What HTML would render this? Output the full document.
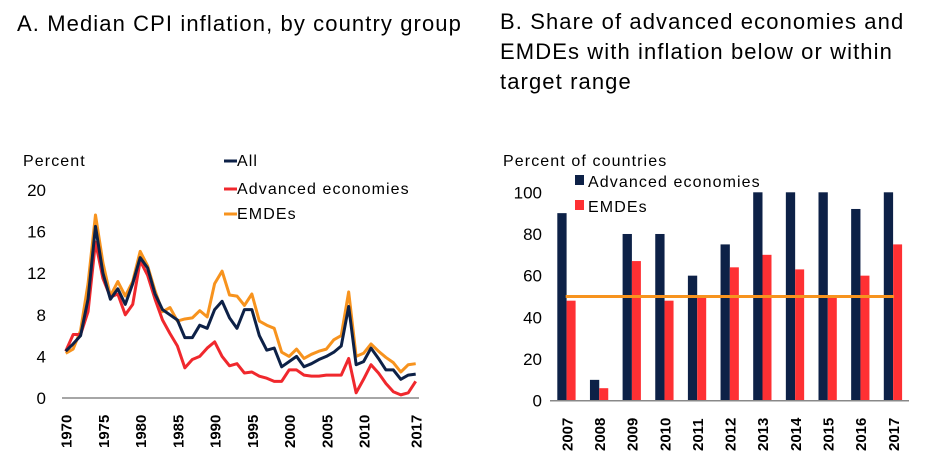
<!DOCTYPE html>
<html><head><meta charset="utf-8"><style>
body{margin:0;background:#fff;font-family:"Liberation Sans",Arial,sans-serif}
svg{display:block}
text{font-family:"Liberation Sans",Arial,sans-serif;fill:#000}
.lg{font-size:16px;letter-spacing:1.1px}
</style></head><body>
<svg width="929" height="455">
<text x="17" y="31" font-size="22" letter-spacing="1.1">A. Median CPI inflation, by country group</text>
<text x="500" y="29" font-size="22" letter-spacing="1.1"><tspan x="500">B. Share of advanced economies and</tspan><tspan x="500" dy="30">EMDEs with inflation below or within</tspan><tspan x="500" dy="30">target range</tspan></text>
<text x="23" y="166" class="lg">Percent</text>
<text x="503" y="166" class="lg">Percent of countries</text>
<g id="a"></g><g id="b"></g>
</svg>
<script>
const years=[];for(let y=1970;y<=2017;y++)years.push(y);
const allSeries=[4.5,5.2,6,9.5,16.5,12,9.5,10.5,9,11,13.5,12.5,10,8.5,8,7.5,5.8,5.8,7,6.7,8.5,9.3,7.7,6.7,8.5,8.5,6,4.6,4.8,3,3.5,4,3,3.3,3.7,4,4.4,5,8.8,3.2,3.5,4.8,3.8,2.7,2.7,1.8,2.2,2.3];
const advSeries=[4.5,6.1,6.1,8.3,15,11.5,9.7,10,8,9,13.2,11.8,9.5,7.5,6.2,5,2.9,3.7,4,4.8,5.4,4,3.1,3.3,2.4,2.5,2.1,1.9,1.6,1.6,2.7,2.7,2.2,2.1,2.1,2.2,2.2,2.2,3.8,0.5,1.8,3.2,2.4,1.4,0.6,0.3,0.5,1.6];
const emdeSeries=[4.3,4.7,6.5,11,17.6,13,9.8,11.2,9.8,11.2,14.1,12.7,10.3,8.3,8.7,7.4,7.6,7.7,8.4,7.8,11,12.2,9.9,9.8,8.9,10,7.4,7,6.7,4.4,4,4.7,3.8,4.2,4.5,4.7,5.6,6,10.2,4,4.3,5.2,4.5,3.9,3.4,2.5,3.2,3.3];
const aTicks=[0,4,8,12,16,20];
const aXLabels=[1970,1975,1980,1985,1990,1995,2000,2005,2010,2017];
const barCats=["2007","2008","2009","2010","2011","2012","2013","2014","2015","2016","2017"];
const barAdv=[90,10,80,80,60,75,100,100,100,92,100];
const barEmde=[48,6,67,48,50,64,70,63,50,60,75];
const bTicks=[0,20,40,60,80,100];
const refLine=50;
const NS="http://www.w3.org/2000/svg";
function mk(p,t,a){const e=document.createElementNS(NS,t);for(const k in a)e.setAttribute(k,a[k]);p.appendChild(e);return e;}
const ga=document.getElementById('a');
const ax=y=>65.7+(y-1970)*350/47, ay=v=>398-v*10.4;
aTicks.forEach(t=>{const e=mk(ga,'text',{x:46,y:ay(t)+6,'font-size':17,'text-anchor':'end'});e.textContent=t;

});
const axl=mk(ga,'line',{x1:62,x2:419,y1:398,y2:398,stroke:'#888','stroke-width':1.5});


aXLabels.forEach(y=>{const e=mk(ga,'text',{transform:`translate(${ax(y)+6},448) rotate(-90)`,'font-size':15,'font-weight':'bold'});e.textContent=y;

});
[[emdeSeries,'#f7931e','line-emdes'],[advSeries,'#f0282d','line-advanced'],[allSeries,'#0d2147','line-all']].forEach(([s,c,n])=>{
const p=mk(ga,'polyline',{points:s.map((v,i)=>ax(years[i])+','+ay(v)).join(' '),fill:'none',stroke:c,'stroke-width':3,'stroke-linejoin':'round'});

});
[['All','#0d2147',166],['Advanced economies','#f0282d',194],['EMDEs','#f7931e',219]].forEach(([t,c,y])=>{
const g=mk(ga,'g',{});

mk(g,'line',{x1:224,x2:237,y1:y-5,y2:y-5,stroke:c,'stroke-width':3});
const e=mk(g,'text',{x:237,y:y,class:'lg'});e.textContent=t;});
const gb=document.getElementById('b');
const bx=i=>550+32.65*i+16.3, by=v=>400.7-v*2.084;
bTicks.forEach(t=>{const e=mk(gb,'text',{x:542,y:by(t)+6,'font-size':17,'text-anchor':'end'});e.textContent=t;

});
barCats.forEach((c,i)=>{
const r1=mk(gb,'rect',{x:bx(i)-9,y:by(barAdv[i]),width:9.3,height:barAdv[i]*2.084,fill:'#0d2147'});


const r2=mk(gb,'rect',{x:bx(i)+0.3,y:by(barEmde[i]),width:9,height:barEmde[i]*2.084,fill:'#fe3033'});


const e=mk(gb,'text',{transform:`translate(${bx(i)+6},451) rotate(-90)`,'font-size':15,'font-weight':'bold'});e.textContent=c;

});
const bxl=mk(gb,'line',{x1:550,x2:909,y1:400.7,y2:400.7,stroke:'#888','stroke-width':1.5});


const rl=mk(gb,'line',{x1:565.7,x2:894,y1:by(refLine),y2:by(refLine),stroke:'#f7931e','stroke-width':3});


[['Advanced economies','#0d2147',187],['EMDEs','#fe3033',212]].forEach(([t,c,y])=>{
const g=mk(gb,'g',{});

mk(g,'rect',{x:575,y:y-12,width:9,height:10,fill:c});
const e=mk(g,'text',{x:588,y:y,class:'lg'});e.textContent=t;});
</script>
</body></html>
